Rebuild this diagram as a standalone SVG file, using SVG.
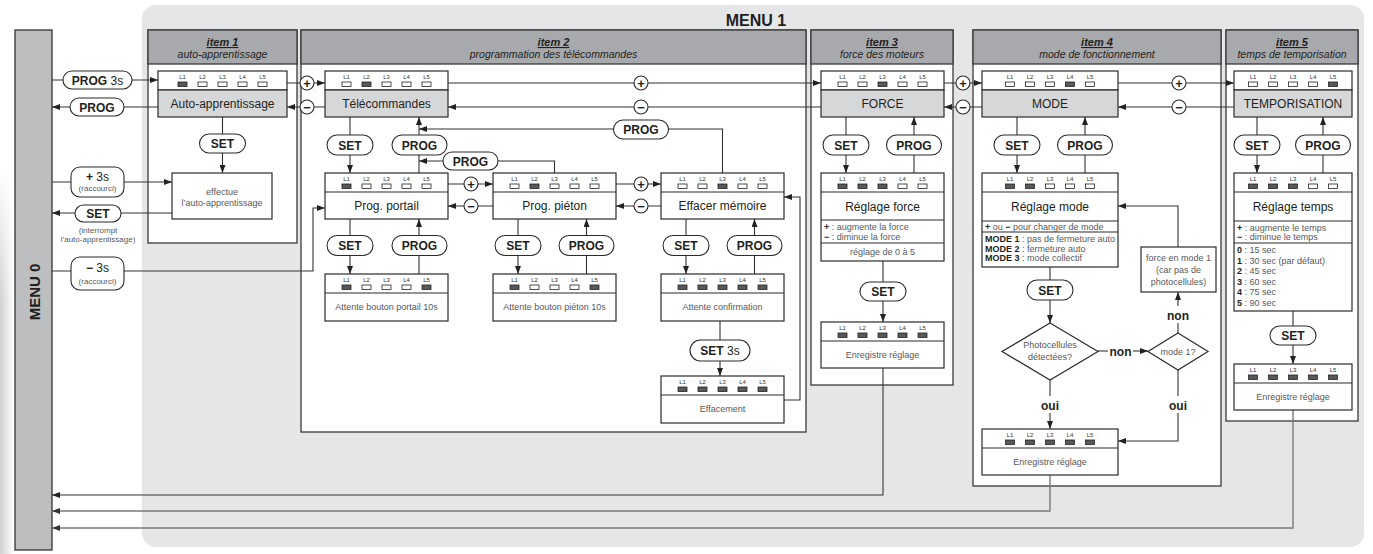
<svg xmlns="http://www.w3.org/2000/svg" width="1373" height="554" viewBox="0 0 1373 554">
<style>
text{font-family:"Liberation Sans",Arial,sans-serif}
.panel{fill:#fff;stroke:#3a3a3a;stroke-width:1.3}
.hdr{fill:#a7a9ac;stroke:#3a3a3a;stroke-width:1.3}
.box{fill:#fff;stroke:#2b2b2b;stroke-width:1.2}
.gl{fill:#d6d7d9;stroke:#2b2b2b;stroke-width:1.2}
.dv{stroke:#2b2b2b;stroke-width:1.1}
.pill{fill:#fff;stroke:#2b2b2b;stroke-width:1.1}
.cir{fill:#fff;stroke:#2b2b2b;stroke-width:1.1}
.c{fill:none;stroke:#333;stroke-width:1.1}
.cg{fill:none;stroke:#7a7a7a;stroke-width:1.4}
.lab{font-size:12px;fill:#231f20;text-anchor:middle}
.sm{font-size:9px;fill:#58595b;text-anchor:middle}
.sml{font-size:9px;fill:#58595b}
.tiny{font-size:8px;fill:#58595b;text-anchor:middle}
.b{font-weight:bold;fill:#231f20}
.pt{font-size:12px;font-weight:bold;fill:#231f20;text-anchor:middle}
.n{font-weight:normal}
.h1{font-size:11px;font-weight:bold;font-style:italic;text-decoration:underline;fill:#231f20;text-anchor:middle}
.h2{font-size:10.5px;font-style:italic;fill:#231f20;text-anchor:middle}
.pm{font-size:13px;font-weight:bold;fill:#231f20;text-anchor:middle}
.yn{font-size:12px;font-weight:bold;fill:#231f20;text-anchor:middle}
</style>
<defs>
<marker id="ah" viewBox="0 0 8 6" refX="8" refY="3" markerWidth="8" markerHeight="6" markerUnits="userSpaceOnUse" orient="auto"><path d="M0,0 L8,3 L0,6 z" fill="#222"/></marker>
<marker id="ahg" viewBox="0 0 8 6" refX="8" refY="3" markerWidth="8" markerHeight="6" markerUnits="userSpaceOnUse" orient="auto"><path d="M0,0 L8,3 L0,6 z" fill="#333"/></marker>
<linearGradient id="lg" x1="0" y1="0" x2="1" y2="0"><stop offset="0" stop-color="#cfd0d2"/><stop offset="1" stop-color="#ffffff"/></linearGradient>
<linearGradient id="vg" x1="0" y1="0" x2="0" y2="1"><stop offset="0" stop-color="#000"/><stop offset="0.35" stop-color="#fff"/><stop offset="1" stop-color="#fff"/></linearGradient>
<mask id="m"><rect x="0" y="170" width="14" height="384" fill="url(#vg)"/></mask>
<g id="lb" font-family="Liberation Sans, Arial, sans-serif" font-size="6" fill="#333" text-anchor="middle"><text x="-40">L1</text><text x="-20">L2</text><text x="0">L3</text><text x="20">L4</text><text x="40">L5</text></g>
<rect id="on" width="9" height="4.5" fill="#58595b" stroke="#222" stroke-width="0.8"/>
<rect id="off" width="9" height="4.5" fill="#fff" stroke="#222" stroke-width="0.8"/>
<g id="p10000"><use href="#lb" y="8"/><use href="#on" x="-44.5" y="11"/><use href="#off" x="-24.5" y="11"/><use href="#off" x="-4.5" y="11"/><use href="#off" x="15.5" y="11"/><use href="#off" x="35.5" y="11"/></g>
<g id="p01000"><use href="#lb" y="8"/><use href="#off" x="-44.5" y="11"/><use href="#on" x="-24.5" y="11"/><use href="#off" x="-4.5" y="11"/><use href="#off" x="15.5" y="11"/><use href="#off" x="35.5" y="11"/></g>
<g id="p00100"><use href="#lb" y="8"/><use href="#off" x="-44.5" y="11"/><use href="#off" x="-24.5" y="11"/><use href="#on" x="-4.5" y="11"/><use href="#off" x="15.5" y="11"/><use href="#off" x="35.5" y="11"/></g>
<g id="p00010"><use href="#lb" y="8"/><use href="#off" x="-44.5" y="11"/><use href="#off" x="-24.5" y="11"/><use href="#off" x="-4.5" y="11"/><use href="#on" x="15.5" y="11"/><use href="#off" x="35.5" y="11"/></g>
<g id="p00001"><use href="#lb" y="8"/><use href="#off" x="-44.5" y="11"/><use href="#off" x="-24.5" y="11"/><use href="#off" x="-4.5" y="11"/><use href="#off" x="15.5" y="11"/><use href="#on" x="35.5" y="11"/></g>
<g id="p10001"><use href="#lb" y="8"/><use href="#on" x="-44.5" y="11"/><use href="#off" x="-24.5" y="11"/><use href="#off" x="-4.5" y="11"/><use href="#off" x="15.5" y="11"/><use href="#on" x="35.5" y="11"/></g>
<g id="p11000"><use href="#lb" y="8"/><use href="#on" x="-44.5" y="11"/><use href="#on" x="-24.5" y="11"/><use href="#off" x="-4.5" y="11"/><use href="#off" x="15.5" y="11"/><use href="#off" x="35.5" y="11"/></g>
<g id="p11100"><use href="#lb" y="8"/><use href="#on" x="-44.5" y="11"/><use href="#on" x="-24.5" y="11"/><use href="#on" x="-4.5" y="11"/><use href="#off" x="15.5" y="11"/><use href="#off" x="35.5" y="11"/></g>
<g id="p11111"><use href="#lb" y="8"/><use href="#on" x="-44.5" y="11"/><use href="#on" x="-24.5" y="11"/><use href="#on" x="-4.5" y="11"/><use href="#on" x="15.5" y="11"/><use href="#on" x="35.5" y="11"/></g>
</defs>

<rect width="1373" height="554" fill="#fff"/>
<rect x="0" y="170" width="14" height="384" fill="url(#lg)" mask="url(#m)"/>

<!-- MENU 1 background -->
<g id="menu1">
<rect x="142" y="5" width="1222" height="542" rx="14" fill="#e5e6e8"/>
<text x="756" y="26" font-size="16" font-weight="bold" fill="#231f20" text-anchor="middle">MENU 1</text>
</g>

<!-- MENU 0 -->
<g id="menu0">
<rect x="15" y="30" width="37" height="520" fill="#bcbec0" stroke="#333" stroke-width="1.3"/>
<text transform="translate(39.5,292) rotate(-90)" font-size="15" font-weight="bold" fill="#231f20" text-anchor="middle">MENU 0</text>
</g>

<!-- item panels -->
<g id="item1">
<rect class="panel" x="148" y="30" width="149" height="213"/>
<rect class="hdr" x="148" y="30" width="149" height="34"/>
<text class="h1" x="222.5" y="46">item 1</text>
<text class="h2" x="222.5" y="58">auto-apprentissage</text>
</g>
<g id="item2">
<rect class="panel" x="301" y="30" width="505" height="402"/>
<rect class="hdr" x="301" y="30" width="505" height="34"/>
<text class="h1" x="553.5" y="46">item 2</text>
<text class="h2" x="553.5" y="58">programmation des télécommandes</text>
</g>
<g id="item3">
<rect class="panel" x="811" y="30" width="142" height="355"/>
<rect class="hdr" x="811" y="30" width="142" height="34"/>
<text class="h1" x="882" y="46">item 3</text>
<text class="h2" x="882" y="58">force des moteurs</text>
</g>
<g id="item4">
<rect class="panel" x="973" y="30" width="248" height="456"/>
<rect class="hdr" x="973" y="30" width="248" height="34"/>
<text class="h1" x="1097" y="46">item 4</text>
<text class="h2" x="1097" y="58">mode de fonctionnement</text>
</g>
<g id="item5">
<rect class="panel" x="1226" y="30" width="132" height="391"/>
<rect class="hdr" x="1226" y="30" width="132" height="34"/>
<text class="h1" x="1292" y="46">item 5</text>
<text class="h2" x="1292" y="58">temps de temporisation</text>
</g>

<!-- connectors -->
<g id="connectors">
<path class="c" marker-end="url(#ah)" d="M52,80 H158"/>
<path class="c" marker-end="url(#ah)" d="M158,107 H52"/>
<path class="c" marker-end="url(#ah)" d="M222.5,117 V173"/>
<path class="c" marker-end="url(#ah)" d="M52,182 H172"/>
<path class="c" marker-end="url(#ah)" d="M172,213 H52"/>
<path class="c" marker-end="url(#ah)" d="M52,271 H313 V208 H325"/>
<path class="c" marker-end="url(#ah)" d="M287,83 H325"/>
<path class="c" marker-end="url(#ah)" d="M325,107 H287"/>
<path class="c" marker-end="url(#ah)" d="M448,83 H821"/>
<path class="c" marker-end="url(#ah)" d="M821,107 H448"/>
<path class="c" marker-end="url(#ah)" d="M350,117 V173"/>
<path class="c" marker-end="url(#ah)" d="M419,173 V117"/>
<path class="c" marker-end="url(#ah)" d="M722.5,173 V129 H419"/>
<path class="c" marker-end="url(#ah)" d="M554.5,173 V161 H419"/>
<path class="c" marker-end="url(#ah)" d="M448,184 H493"/>
<path class="c" marker-end="url(#ah)" d="M493,206 H448"/>
<path class="c" marker-end="url(#ah)" d="M616,184 H661"/>
<path class="c" marker-end="url(#ah)" d="M661,206 H616"/>
<path class="c" marker-end="url(#ah)" d="M350,219 V274"/>
<path class="c" marker-end="url(#ah)" d="M419,274 V219"/>
<path class="c" marker-end="url(#ah)" d="M518,219 V274"/>
<path class="c" marker-end="url(#ah)" d="M586.5,274 V219"/>
<path class="c" marker-end="url(#ah)" d="M686,219 V274"/>
<path class="c" marker-end="url(#ah)" d="M754.5,274 V219"/>
<path class="c" marker-end="url(#ah)" d="M720,321 V376"/>
<path class="c" marker-end="url(#ah)" d="M784,400 H800 V197 H784"/>
<path class="c" marker-end="url(#ah)" d="M944,83 H982"/>
<path class="c" marker-end="url(#ah)" d="M982,107 H944"/>
<path class="c" marker-end="url(#ah)" d="M846,117 V173"/>
<path class="c" marker-end="url(#ah)" d="M914,173 V117"/>
<path class="c" marker-end="url(#ah)" d="M883,261 V322"/>
<path class="c" marker-end="url(#ah)" d="M883,368 V495 H52"/>
<path class="c" marker-end="url(#ah)" d="M1118,83 H1234"/>
<path class="c" marker-end="url(#ah)" d="M1234,107 H1118"/>
<path class="c" marker-end="url(#ah)" d="M1017,117 V173"/>
<path class="c" marker-end="url(#ah)" d="M1085,173 V117"/>
<path class="c" marker-end="url(#ah)" d="M1050,267 V323"/>
<path class="c" d="M1098,351 H1108"/>
<path class="c" marker-end="url(#ah)" d="M1133,351 H1148"/>
<path class="c" d="M1178,333 V323"/>
<path class="c" marker-end="url(#ah)" d="M1178,306 V292"/>
<path class="c" marker-end="url(#ah)" d="M1178,247 V206 H1118"/>
<path class="c" d="M1050,380 V396"/>
<path class="c" marker-end="url(#ah)" d="M1050,413 V429"/>
<path class="c" d="M1178,370 V396"/>
<path class="c" marker-end="url(#ah)" d="M1178,413 V441 H1118"/>
<path class="cg" marker-end="url(#ahg)" d="M1050,475 V511 H52"/>
<path class="c" marker-end="url(#ah)" d="M1257,117 V173"/>
<path class="c" marker-end="url(#ah)" d="M1323,173 V117"/>
<path class="c" marker-end="url(#ah)" d="M1293,311 V364"/>
<path class="cg" marker-end="url(#ahg)" d="M1293,410 V528 H52"/>
</g>

<!-- connector labels: pills and +/- buttons -->
<g id="labels">
<rect class="pill" x="63" y="71" width="69" height="18" rx="9"/>
<text class="pt" x="97.5" y="84.5">PROG<tspan class="n"> 3s</tspan></text>
<rect class="pill" x="70" y="98" width="54" height="18" rx="9"/>
<text class="pt" x="97" y="111.5">PROG</text>
<rect class="pill" x="199.5" y="134" width="46" height="19" rx="9.5"/>
<text class="pt" x="222.5" y="148">SET</text>
<rect class="pill" x="71" y="167" width="53" height="30" rx="9"/>
<text class="pt" x="97.5" y="180.5">+<tspan class="n"> 3s</tspan></text>
<text class="tiny" x="97.5" y="191">(raccourci)</text>
<rect class="pill" x="75" y="205" width="46" height="17" rx="8.5"/>
<text class="pt" x="98" y="218">SET</text>
<text class="tiny" x="98" y="233">(interrompt</text>
<text class="tiny" x="98" y="242">l’auto-apprentissage)</text>
<rect class="pill" x="71" y="257" width="53" height="33" rx="9"/>
<text class="pt" x="97.5" y="271.5">−<tspan class="n"> 3s</tspan></text>
<text class="tiny" x="97.5" y="284">(raccourci)</text>

<rect class="pill" x="327" y="135" width="46" height="20" rx="10"/>
<text class="pt" x="350" y="149.5">SET</text>
<rect class="pill" x="392" y="135" width="55" height="20" rx="10"/>
<text class="pt" x="419.5" y="149.5">PROG</text>
<rect class="pill" x="443" y="152" width="55" height="18" rx="9"/>
<text class="pt" x="470.5" y="165.5">PROG</text>
<rect class="pill" x="613.5" y="120" width="55" height="19" rx="9.5"/>
<text class="pt" x="641" y="134">PROG</text>

<rect class="pill" x="327" y="235.5" width="46" height="20" rx="10"/>
<text class="pt" x="350" y="250">SET</text>
<rect class="pill" x="392" y="235.5" width="55" height="20" rx="10"/>
<text class="pt" x="419.5" y="250">PROG</text>
<rect class="pill" x="495" y="235.5" width="46" height="20" rx="10"/>
<text class="pt" x="518" y="250">SET</text>
<rect class="pill" x="559" y="235.5" width="55" height="20" rx="10"/>
<text class="pt" x="586.5" y="250">PROG</text>
<rect class="pill" x="663" y="235.5" width="46" height="20" rx="10"/>
<text class="pt" x="686" y="250">SET</text>
<rect class="pill" x="727" y="235.5" width="55" height="20" rx="10"/>
<text class="pt" x="754.5" y="250">PROG</text>
<rect class="pill" x="690" y="340" width="60" height="21" rx="10.5"/>
<text class="pt" x="720" y="355">SET<tspan class="n"> 3s</tspan></text>

<rect class="pill" x="823" y="135" width="46" height="20" rx="10"/>
<text class="pt" x="846" y="149.5">SET</text>
<rect class="pill" x="886.5" y="135" width="55" height="20" rx="10"/>
<text class="pt" x="914" y="149.5">PROG</text>
<rect class="pill" x="860" y="282" width="46" height="19" rx="9.5"/>
<text class="pt" x="883" y="296">SET</text>

<rect class="pill" x="994" y="135" width="46" height="20" rx="10"/>
<text class="pt" x="1017" y="149.5">SET</text>
<rect class="pill" x="1057.5" y="135" width="55" height="20" rx="10"/>
<text class="pt" x="1085" y="149.5">PROG</text>
<rect class="pill" x="1027" y="280" width="46" height="20" rx="10"/>
<text class="pt" x="1050" y="294.5">SET</text>
<text class="yn" x="1120.5" y="355.5">non</text>
<text class="yn" x="1178" y="319.5">non</text>
<text class="yn" x="1050" y="410">oui</text>
<text class="yn" x="1178" y="410">oui</text>

<rect class="pill" x="1234" y="135" width="46" height="20" rx="10"/>
<text class="pt" x="1257" y="149.5">SET</text>
<rect class="pill" x="1295.5" y="135" width="55" height="20" rx="10"/>
<text class="pt" x="1323" y="149.5">PROG</text>
<rect class="pill" x="1270" y="326" width="46" height="19" rx="9.5"/>
<text class="pt" x="1293" y="340">SET</text>

<circle class="cir" cx="307" cy="83" r="7"/><text class="pm" x="307" y="87.5">+</text>
<circle class="cir" cx="307" cy="107" r="7"/><text class="pm" x="307" y="111.5">−</text>
<circle class="cir" cx="641" cy="83" r="7"/><text class="pm" x="641" y="87.5">+</text>
<circle class="cir" cx="641" cy="107" r="7"/><text class="pm" x="641" y="111.5">−</text>
<circle class="cir" cx="471" cy="184" r="7"/><text class="pm" x="471" y="188.5">+</text>
<circle class="cir" cx="471" cy="206" r="7"/><text class="pm" x="471" y="210.5">−</text>
<circle class="cir" cx="641" cy="184" r="7"/><text class="pm" x="641" y="188.5">+</text>
<circle class="cir" cx="641" cy="206" r="7"/><text class="pm" x="641" y="210.5">−</text>
<circle class="cir" cx="963" cy="83" r="7"/><text class="pm" x="963" y="87.5">+</text>
<circle class="cir" cx="963" cy="107" r="7"/><text class="pm" x="963" y="111.5">−</text>
<circle class="cir" cx="1179" cy="83" r="7"/><text class="pm" x="1179" y="87.5">+</text>
<circle class="cir" cx="1179" cy="107" r="7"/><text class="pm" x="1179" y="111.5">−</text>
</g>

<!-- nodes -->
<g id="n-auto">
<rect class="box" x="158" y="71" width="129" height="19"/>
<rect class="gl" x="158" y="90" width="129" height="27"/>
<use href="#p10000" x="222.5" y="71"/>
<text class="lab" x="222.5" y="107.5">Auto-apprentissage</text>
</g>
<g id="n-effectue">
<rect class="box" x="172" y="173" width="100" height="46"/>
<text class="sm" x="222" y="195">effectue</text>
<text class="sm" x="222" y="205.5">l’auto-apprentissage</text>
</g>

<g id="n-telecommandes">
<rect class="box" x="325" y="71" width="123" height="19"/>
<rect class="gl" x="325" y="90" width="123" height="27"/>
<use href="#p01000" x="386.5" y="71"/>
<text class="lab" x="386.5" y="107.5">Télécommandes</text>
</g>
<g id="n-portail">
<rect class="box" x="325" y="173" width="123" height="46"/>
<line class="dv" x1="325" y1="192" x2="448" y2="192"/>
<use href="#p10000" x="386.5" y="173"/>
<text class="lab" x="386.5" y="209.5">Prog. portail</text>
</g>
<g id="n-pieton">
<rect class="box" x="493" y="173" width="123" height="46"/>
<line class="dv" x1="493" y1="192" x2="616" y2="192"/>
<use href="#p01000" x="554.5" y="173"/>
<text class="lab" x="554.5" y="209.5">Prog. piéton</text>
</g>
<g id="n-effacer">
<rect class="box" x="661" y="173" width="123" height="46"/>
<line class="dv" x1="661" y1="192" x2="784" y2="192"/>
<use href="#p00100" x="722.5" y="173"/>
<text class="lab" x="722.5" y="209.5">Effacer mémoire</text>
</g>
<g id="n-att-portail">
<rect class="box" x="325" y="274" width="123" height="47"/>
<line class="dv" x1="325" y1="293" x2="448" y2="293"/>
<use href="#p10001" x="386.5" y="274"/>
<text class="sm" x="386.5" y="310">Attente bouton portail 10s</text>
</g>
<g id="n-att-pieton">
<rect class="box" x="493" y="274" width="123" height="47"/>
<line class="dv" x1="493" y1="293" x2="616" y2="293"/>
<use href="#p10001" x="554.5" y="274"/>
<text class="sm" x="554.5" y="310">Attente bouton piéton 10s</text>
</g>
<g id="n-att-conf">
<rect class="box" x="661" y="274" width="123" height="47"/>
<line class="dv" x1="661" y1="293" x2="784" y2="293"/>
<use href="#p11111" x="722.5" y="274"/>
<text class="sm" x="722.5" y="310">Attente confirmation</text>
</g>
<g id="n-effacement">
<rect class="box" x="661" y="376" width="123" height="47"/>
<line class="dv" x1="661" y1="395" x2="784" y2="395"/>
<use href="#p11111" x="722.5" y="376"/>
<text class="sm" x="722.5" y="412">Effacement</text>
</g>

<g id="n-force">
<rect class="box" x="821" y="71" width="123" height="19"/>
<rect class="gl" x="821" y="90" width="123" height="27"/>
<use href="#p00100" x="882.5" y="71"/>
<text class="lab" x="882.5" y="107.5">FORCE</text>
</g>
<g id="n-reglage-force">
<rect class="box" x="821" y="173" width="123" height="88"/>
<line class="dv" x1="821" y1="192" x2="944" y2="192"/>
<line class="dv" x1="821" y1="220" x2="944" y2="220"/>
<line class="dv" x1="821" y1="243" x2="944" y2="243"/>
<use href="#p11100" x="882.5" y="173"/>
<text class="lab" x="882.5" y="210.5">Réglage force</text>
<text class="sml" x="824" y="229.5"><tspan class="b">+</tspan> : augmente la force</text>
<text class="sml" x="824" y="239.5"><tspan class="b">−</tspan> : diminue la force</text>
<text class="sm" x="882.5" y="255">réglage de 0 à 5</text>
</g>
<g id="n-enreg-force">
<rect class="box" x="821" y="322" width="123" height="46"/>
<line class="dv" x1="821" y1="341" x2="944" y2="341"/>
<use href="#p11111" x="882.5" y="322"/>
<text class="sm" x="882.5" y="358">Enregistre réglage</text>
</g>

<g id="n-mode">
<rect class="box" x="982" y="71" width="136" height="19"/>
<rect class="gl" x="982" y="90" width="136" height="27"/>
<use href="#p00010" x="1050" y="71"/>
<text class="lab" x="1050" y="107.5">MODE</text>
</g>
<g id="n-reglage-mode">
<rect class="box" x="982" y="173" width="136" height="94"/>
<line class="dv" x1="982" y1="192" x2="1118" y2="192"/>
<line class="dv" x1="982" y1="221" x2="1118" y2="221"/>
<line class="dv" x1="982" y1="232" x2="1118" y2="232"/>
<use href="#p11000" x="1050" y="173"/>
<text class="lab" x="1050" y="211">Réglage mode</text>
<text class="sml" x="985" y="230"><tspan class="b">+</tspan> ou <tspan class="b">−</tspan> pour changer de mode</text>
<text class="sml" x="985" y="242"><tspan class="b">MODE 1</tspan> : pas de fermeture auto</text>
<text class="sml" x="985" y="251.5"><tspan class="b">MODE 2</tspan> : fermeture auto</text>
<text class="sml" x="985" y="261"><tspan class="b">MODE 3</tspan> : mode collectif</text>
</g>
<g id="n-force-mode1">
<rect class="box" x="1141" y="247" width="75" height="45"/>
<text class="sm" x="1178.5" y="261">force en mode 1</text>
<text class="sm" x="1178.5" y="273">(car pas de</text>
<text class="sm" x="1178.5" y="285">photocellules)</text>
</g>
<g id="n-photocellules">
<polygon class="box" points="1050,323 1098,351.5 1050,380 1002,351.5"/>
<text class="sm" x="1050" y="348">Photocellules</text>
<text class="sm" x="1050" y="360">détectées?</text>
</g>
<g id="n-mode1">
<polygon class="box" points="1178,333 1208,351.5 1178,370 1148,351.5"/>
<text class="sm" x="1178" y="354.5">mode 1?</text>
</g>
<g id="n-enreg-mode">
<rect class="box" x="982" y="429" width="136" height="46"/>
<line class="dv" x1="982" y1="448" x2="1118" y2="448"/>
<use href="#p11111" x="1050" y="429"/>
<text class="sm" x="1050" y="465">Enregistre réglage</text>
</g>

<g id="n-tempo">
<rect class="box" x="1234" y="71" width="118" height="19"/>
<rect class="gl" x="1234" y="90" width="118" height="27"/>
<use href="#p00001" x="1293" y="71"/>
<text class="lab" x="1293" y="107.5">TEMPORISATION</text>
</g>
<g id="n-reglage-temps">
<rect class="box" x="1234" y="173" width="118" height="138"/>
<line class="dv" x1="1234" y1="192" x2="1352" y2="192"/>
<line class="dv" x1="1234" y1="221" x2="1352" y2="221"/>
<line class="dv" x1="1234" y1="243" x2="1352" y2="243"/>
<use href="#p11100" x="1293" y="173"/>
<text class="lab" x="1293" y="211">Réglage temps</text>
<text class="sml" x="1237" y="230.5"><tspan class="b">+</tspan> : augmente le temps</text>
<text class="sml" x="1237" y="240"><tspan class="b">−</tspan> : diminue le temps</text>
<text class="sml" x="1237" y="253"><tspan class="b">0</tspan> : 15 sec</text>
<text class="sml" x="1237" y="263.5"><tspan class="b">1</tspan> : 30 sec (par défaut)</text>
<text class="sml" x="1237" y="274"><tspan class="b">2</tspan> : 45 sec</text>
<text class="sml" x="1237" y="284.5"><tspan class="b">3</tspan> : 60 sec</text>
<text class="sml" x="1237" y="295"><tspan class="b">4</tspan> : 75 sec</text>
<text class="sml" x="1237" y="305.5"><tspan class="b">5</tspan> : 90 sec</text>
</g>
<g id="n-enreg-temps">
<rect class="box" x="1234" y="364" width="118" height="46"/>
<line class="dv" x1="1234" y1="383" x2="1352" y2="383"/>
<use href="#p11111" x="1293" y="364"/>
<text class="sm" x="1293" y="400">Enregistre réglage</text>
</g>
</svg>
